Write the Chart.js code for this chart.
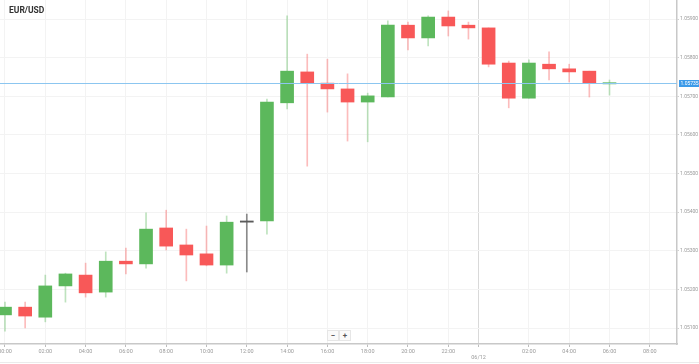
<!DOCTYPE html>
<html>
<head>
<meta charset="utf-8">
<script src="https://cdn.jsdelivr.net/npm/chart.js@4/dist/chart.umd.min.js"></script>
<style>
  html, body { margin: 0; padding: 0; background: #fff; }
  #wrap { position: relative; width: 699px; height: 364px; overflow: hidden; }
  #wrap canvas { position: absolute; left: 0; top: 0; }
  #title { position: absolute; left: 9px; top: 5px; font: bold 8.5px Roboto, "Open Sans", sans-serif; color: #333; }
  .zbtn { position: absolute; top: 330px; width: 10px; height: 9px; border: 1px solid #e6e6e6; background: #fafafa;
          font: bold 8px Roboto, sans-serif; color: #555; text-align: center; line-height: 9px; }
  #bottomline { position: absolute; left: 0; top: 362px; width: 699px; height: 1px; background: #ebebeb; }
</style>
</head>
<body>
<div id="wrap">
  <canvas id="c" width="699" height="363"></canvas>
  <div id="title">EUR/USD</div>
  <div class="zbtn" style="left:327px">−</div>
  <div class="zbtn" style="left:339px">+</div>
  <div id="bottomline"></div>
</div>
<script>
// ---- data (hours from 00:00 of the first day) ----
const hours  = [0,1,2,3,4,5,6,7,8,9,10,11,12,13,14,15,16,17,18,19,20,21,22,23,24,25,26,27,28,29,30];
const opens  = [1.05134,1.05154,1.05128,1.05209,1.05237,1.05193,1.05273,1.05266,1.05359,1.05315,1.05292,1.05263,1.05374,1.05377,1.05683,1.05763,1.05734,1.05719,1.05685,1.05698,1.05884,1.05851,1.05905,1.05884,1.05877,1.05786,1.05695,1.05783,1.05771,1.05765,1.05732];
const highs  = [1.05167,1.05167,1.05237,1.05242,1.05268,1.05297,1.05307,1.05398,1.05405,1.05356,1.05364,1.05390,1.05395,1.05693,1.05908,1.05809,1.05796,1.05758,1.05708,1.05895,1.05892,1.05908,1.05921,1.05892,1.05877,1.05791,1.05794,1.05815,1.05783,1.05765,1.05742];
const lows   = [1.05092,1.05100,1.05116,1.05167,1.05180,1.05180,1.05240,1.05255,1.05302,1.05222,1.05261,1.05242,1.05245,1.05343,1.05667,1.05519,1.05659,1.05584,1.05582,1.05698,1.05820,1.05830,1.05856,1.05848,1.05776,1.05670,1.05695,1.05742,1.05737,1.05698,1.05703];
const closes = [1.05154,1.05131,1.05209,1.05240,1.05191,1.05273,1.05266,1.05356,1.05312,1.05289,1.05263,1.05374,1.05374,1.05685,1.05765,1.05734,1.05719,1.05685,1.05701,1.05884,1.05851,1.05905,1.05882,1.05877,1.05783,1.05695,1.05786,1.05771,1.05763,1.05734,1.05734];
const currentPrice = 1.05735;
const xTickHours  = [0,2,4,6,8,10,12,14,16,18,20,22,23.5,26,28,30,32];
const xTickLabels = ["00:00","02:00","04:00","06:00","08:00","10:00","12:00","14:00","16:00","18:00","20:00","22:00",["","06/12"],"02:00","04:00","06:00","08:00"];
const yTicks = [1.051,1.052,1.053,1.054,1.055,1.056,1.057,1.058,1.059];
const daySplit = 23.5;

const UP = '#5cb85c', DOWN = '#f85858', FLAT = '#5a5a5a';
const UP_W = 'rgba(92,184,92,0.4)', DOWN_W = 'rgba(248,88,88,0.4)', FLAT_W = '#8a8a8a';
function dir(i){ return closes[i] > opens[i] ? 1 : (closes[i] < opens[i] ? -1 : 0); }

const priceLine = {
  id: 'priceLine',
  afterDraw(chart) {
    const ctx = chart.ctx, a = chart.chartArea, y = chart.scales.y.getPixelForValue(currentPrice);
    const py = Math.round(y) + 0.5;
    ctx.save();
    ctx.strokeStyle = '#8cc6f0'; ctx.lineWidth = 1;
    ctx.beginPath(); ctx.moveTo(a.left, py); ctx.lineTo(a.right, py); ctx.stroke();
    ctx.fillStyle = '#3d9be9';
    ctx.fillRect(a.right + 2, py - 3.5, chart.width - a.right - 2, 7);
    ctx.fillStyle = '#fff'; ctx.font = '5px Roboto'; ctx.textBaseline = 'middle'; ctx.textAlign = 'left';
    ctx.fillText(currentPrice.toFixed(5), a.right + 3.5, py);
    ctx.restore();
  }
};

new Chart(document.getElementById('c'), {
  type: 'bar',
  data: {
    datasets: [
      {
        label: 'wick', order: 2, grouped: false, barThickness: 1,
        data: hours.map((h, i) => ({ x: h, y: [lows[i], highs[i]] })),
        backgroundColor: ctx => { const d = dir(ctx.dataIndex); return d > 0 ? UP_W : d < 0 ? DOWN_W : FLAT_W; },
        borderWidth: 0
      },
      {
        label: 'body', order: 1, grouped: false, barThickness: 13, minBarLength: 1.2,
        data: hours.map((h, i) => ({ x: h, y: [opens[i], closes[i]] })),
        backgroundColor: ctx => { const d = dir(ctx.dataIndex); return d > 0 ? UP : d < 0 ? DOWN : FLAT; },
        borderWidth: 0
      }
    ]
  },
  options: {
    responsive: false,
    animation: false,
    devicePixelRatio: 1,
    layout: { padding: 0 },
    plugins: { legend: { display: false }, tooltip: { enabled: false }, title: { display: false } },
    scales: {
      x: {
        type: 'linear', offset: false,
        min: -0.248, max: 33.35,
        afterBuildTicks: s => { s.ticks = xTickHours.map(v => ({ value: v })); },
        afterFit: s => { s.height = 19; s.paddingLeft = 0; s.paddingRight = 0; },
        ticks: {
          autoSkip: false, maxRotation: 0, padding: 1,
          font: { family: 'Roboto', size: 5.5 }, color: '#9a9a9a',
          callback: (v) => { const k = xTickHours.indexOf(v); return k >= 0 ? xTickLabels[k] : ''; }
        },
        grid: {
          offset: false, tickLength: 3,
          color: ctx => (ctx.tick && ctx.tick.value === daySplit) ? '#d9d9d9' : '#f3f3f3',
          tickColor: '#bdbdbd'
        },
        border: { display: true, color: '#c8c8c8', width: 1.5 }
      },
      y: {
        type: 'linear', position: 'right',
        min: 1.050586, max: 1.059492,
        afterBuildTicks: s => { s.ticks = yTicks.map(v => ({ value: v })); },
        afterFit: s => { s.width = 22; s.paddingTop = 0; s.paddingBottom = 0; },
        ticks: {
          padding: 1, font: { family: 'Roboto', size: 5 }, color: '#9a9a9a',
          callback: v => Number(v).toFixed(5)
        },
        grid: { color: '#f3f3f3', tickLength: 2, tickColor: '#d0d0d0' },
        border: { display: true, color: '#c8c8c8', width: 1.5 }
      }
    }
  },
  plugins: [priceLine]
});
</script>
</body>
</html>
